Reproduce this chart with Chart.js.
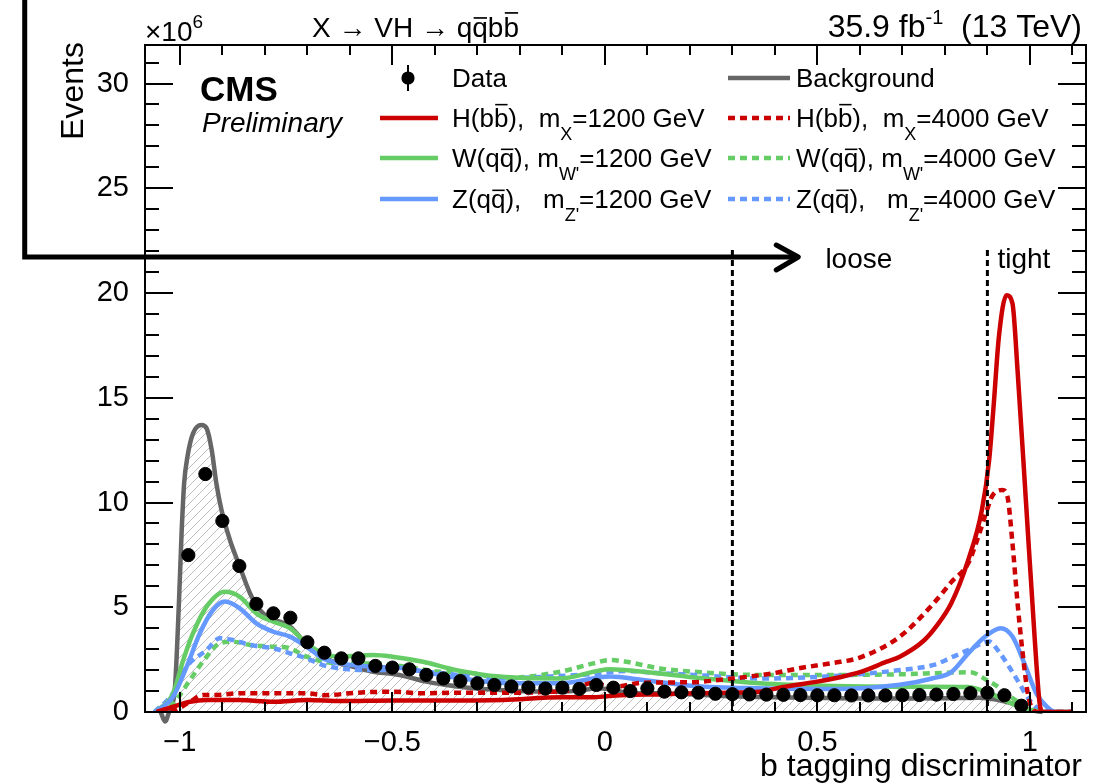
<!DOCTYPE html>
<html><head><meta charset="utf-8">
<script src="https://cdn.jsdelivr.net/npm/chart.js@4.4.0/dist/chart.umd.min.js"></script>
<style>html,body{margin:0;padding:0;background:#fff;overflow:hidden}#wrap{width:1105px;height:784px;position:relative}</style>
</head><body><div id="wrap"><canvas id="c"></canvas></div>
<script>
const FONT = '"Liberation Sans", Arial, Helvetica, sans-serif';

// ---- axis ranges & tick labels ----
const X_MIN = -1.082, X_MAX = 1.132, Y_MIN = 0, Y_MAX = 31.84;
const xTickValues = [-1, -0.5, 0, 0.5, 1];
const xTickLabels = ['\u22121', '\u22120.5', '0', '0.5', '1'];
const yTickValues = [0, 5, 10, 15, 20, 25, 30];
const yTickLabels = ['0', '5', '10', '15', '20', '25', '30'];

// ---- data (Events x10^6) ----
const dataX = [-0.98,-0.94,-0.90,-0.86,-0.82,-0.78,-0.74,-0.70,-0.66,-0.62,-0.58,-0.54,-0.50,-0.46,-0.42,-0.38,-0.34,-0.30,-0.26,-0.22,-0.18,-0.14,-0.10,-0.06,-0.02,0.02,0.06,0.10,0.14,0.18,0.22,0.26,0.30,0.34,0.38,0.42,0.46,0.50,0.54,0.58,0.62,0.66,0.70,0.74,0.78,0.82,0.86,0.90,0.94,0.98];
const dataY = [7.49,11.36,9.12,6.97,5.16,4.71,4.50,3.33,2.83,2.56,2.56,2.20,2.12,2.04,1.77,1.60,1.48,1.37,1.29,1.22,1.17,1.12,1.16,1.10,1.29,1.16,1.00,1.13,0.97,0.94,0.92,0.87,0.85,0.84,0.83,0.82,0.81,0.80,0.80,0.79,0.79,0.79,0.80,0.81,0.83,0.86,0.90,0.92,0.80,0.30];

const bkgX = [-1.045,-1.035,-1.024,-1.012,-1.002,-0.996,-0.99,-0.982,-0.969,-0.949,-0.937,-0.925,-0.914,-0.902,-0.882,-0.859,-0.835,-0.812,-0.788,-0.765,-0.745,-0.725,-0.702,-0.671,-0.639,-0.592,-0.545,-0.498,-0.467,-0.42,-0.372,-0.31,-0.247,-0.2,-0.15,-0.1,-0.05,-0.02,0.02,0.06,0.12,0.2,0.3,0.4,0.5,0.6,0.7,0.8,0.88,0.92,0.96,1.0,1.03];
const bkgY = [0,-0.45,0.1,1.05,5.3,8.5,10.9,12.2,13.3,13.7,13.54,12.5,10.9,9.64,8.2,6.94,5.67,4.87,4.47,4.31,4.15,3.76,3.2,2.72,2.4,2.16,1.92,1.81,1.69,1.45,1.29,1.13,1.05,1.0,0.98,0.97,1.05,1.13,1.05,0.9,0.9,0.85,0.75,0.7,0.67,0.65,0.65,0.66,0.68,0.6,0.4,0.1,0];

const h1200X = [-1.055,-1.016,-0.976,-0.937,-0.86,-0.78,-0.70,-0.62,-0.5,-0.4,-0.3,-0.24,-0.1,-0.03,0.01,0.05,0.13,0.21,0.286,0.365,0.42,0.5,0.55,0.6,0.663,0.694,0.75,0.78,0.815,0.855,0.887,0.904,0.915,0.927,0.945,0.959,0.971,0.991,1.011,1.023,1.03,1.1];
const h1200Y = [0,0.25,0.49,0.57,0.57,0.49,0.57,0.52,0.55,0.55,0.55,0.57,0.7,0.7,0.76,0.81,0.84,0.89,0.92,0.97,1.2,1.45,1.65,1.9,2.4,2.64,3.4,4.1,5.19,7.26,9.64,12.0,14.7,17.9,19.9,19.5,16.3,9.96,3.6,0.4,0,0];

const h4000X = [-1.05,-1.016,-0.976,-0.945,-0.92,-0.859,-0.78,-0.70,-0.66,-0.584,-0.498,-0.43,-0.35,-0.25,-0.15,-0.08,-0.03,0.02,0.09,0.2,0.3,0.396,0.46,0.537,0.6,0.694,0.774,0.815,0.855,0.879,0.899,0.911,0.935,0.947,0.959,0.971,0.983,0.995,1.007,1.02,1.1];
const h4000Y = [0,0.05,0.5,0.81,0.81,0.89,0.89,0.89,0.8,0.92,0.97,0.89,0.92,0.92,0.95,1.05,1.38,1.2,1.4,1.42,1.6,1.85,2.1,2.34,2.6,3.6,5.2,6.2,7.1,8.4,9.64,10.3,10.6,10.3,8.05,5.19,2.8,0.9,0.1,0,0];

const w1200X = [-1.058,-1.016,-0.992,-0.969,-0.937,-0.894,-0.859,-0.82,-0.78,-0.741,-0.702,-0.663,-0.624,-0.545,-0.5,-0.428,-0.349,-0.247,-0.106,0.012,0.09,0.21,0.365,0.54,0.694,0.77,0.855,0.906,0.953,0.99,1.05,1.1];
const w1200Y = [0,0.89,2.48,3.76,5.03,5.74,5.5,4.71,4.31,4.0,3.28,2.8,2.64,2.72,2.64,2.4,2.0,1.69,1.6,2.04,1.92,1.65,1.37,1.24,1.21,1.21,1.19,0.89,0.45,0.15,0,0];

const z1200X = [-1.058,-1.016,-0.984,-0.953,-0.922,-0.894,-0.859,-0.82,-0.78,-0.741,-0.702,-0.663,-0.624,-0.545,-0.467,-0.388,-0.31,-0.247,-0.106,0.012,0.09,0.21,0.365,0.54,0.694,0.77,0.815,0.855,0.895,0.931,0.959,0.987,1.015,1.04,1.06,1.1];
const z1200Y = [0,0.73,2.16,3.76,4.87,5.27,4.95,4.23,3.83,3.6,3.12,2.56,2.32,2.16,2.08,1.77,1.53,1.4,1.37,1.69,1.53,1.24,1.13,1.1,1.3,1.6,1.9,2.8,3.6,4.0,3.6,2.32,0.89,0.25,0,0];

const w4000X = [-1.05,-1.016,-0.976,-0.937,-0.906,-0.875,-0.835,-0.78,-0.741,-0.702,-0.624,-0.545,-0.467,-0.388,-0.31,-0.247,-0.106,-0.027,0.012,0.05,0.13,0.21,0.365,0.54,0.694,0.815,0.86,0.898,0.929,0.96,0.999,1.03,1.1];
const w4000Y = [0,0.4,1.53,2.64,3.28,3.36,3.2,3.12,3.04,2.64,2.32,2.32,2.16,1.92,1.85,1.6,1.92,2.32,2.48,2.4,2.08,1.92,1.77,1.77,1.8,1.88,1.9,1.53,1.15,0.65,0.18,0,0];

const z4000X = [-1.06,-1.016,-0.984,-0.937,-0.906,-0.875,-0.835,-0.78,-0.741,-0.702,-0.663,-0.624,-0.545,-0.467,-0.388,-0.31,-0.247,-0.106,-0.027,0.05,0.13,0.21,0.365,0.54,0.694,0.774,0.815,0.855,0.904,0.927,0.951,0.975,0.999,1.024,1.04,1.1];
const z4000Y = [0,0.89,2.16,2.96,3.52,3.44,3.2,3.04,2.8,2.56,2.24,2.08,2.0,2.0,1.85,1.69,1.6,1.72,1.81,1.96,1.85,1.77,1.6,1.72,2.0,2.25,2.6,2.96,3.36,2.88,2.16,1.37,0.57,0.1,0,0];

// ---- labels ----
const legendLabels = {
  data: 'Data', bkg: 'Background',
  h1200: 'H(b#bar{b}),  m_{X}=1200 GeV', h4000: 'H(b#bar{b}),  m_{X}=4000 GeV',
  w1200: "W(q#bar{q}), m_{W'}=1200 GeV", w4000: "W(q#bar{q}), m_{W'}=4000 GeV",
  z1200: "Z(q#bar{q}),   m_{Z'}=1200 GeV", z4000: "Z(q#bar{q}),   m_{Z'}=4000 GeV"
};
const cutValues = [0.3, 0.9];
const cutLabels = ['loose', 'tight'];

const RED = '#cc0000', GREEN = '#66cc66', BLUE = '#6699ff', GRAY = '#666666';

const zip = (xs, ys) => xs.map((x, i) => ({x, y: ys[i]}));

// ---- rich text helper ----
function parseRich(s) {
  const out = []; let i = 0, buf = '';
  const flush = () => { if (buf) { out.push({t: buf, k: 'n'}); buf = ''; } };
  while (i < s.length) {
    if (s.startsWith('_{', i) || s.startsWith('^{', i)) {
      flush(); const j = s.indexOf('}', i);
      out.push({t: s.slice(i + 2, j), k: s[i] === '_' ? 'sub' : 'sup'}); i = j + 1;
    } else if (s.startsWith('#bar{', i)) {
      flush(); const j = s.indexOf('}', i);
      out.push({t: s.slice(i + 5, j), k: 'bar'}); i = j + 1;
    } else { buf += s[i]; i++; }
  }
  flush(); return out;
}
function drawRich(ctx, s, x, y, size, opt = {}) {
  const segs = parseRich(s);
  const fs = k => (k === 'sub' || k === 'sup') ? Math.round(size * (opt.subScale || 0.68)) : size;
  const fontFor = k => `${opt.style || 'normal'} ${opt.weight || 'normal'} ${fs(k)}px ${FONT}`;
  let w = 0;
  segs.forEach(g => { ctx.font = fontFor(g.k); g.w = ctx.measureText(g.t).width; w += g.w; });
  let cx = opt.align === 'right' ? x - w : opt.align === 'center' ? x - w / 2 : x;
  ctx.textAlign = 'left'; ctx.textBaseline = 'alphabetic';
  segs.forEach(g => {
    ctx.font = fontFor(g.k);
    let dy = 0;
    if (g.k === 'sub') dy = size * (opt.subDy || 0.45);
    if (g.k === 'sup') dy = -size * (opt.supDy || 0.42);
    ctx.fillText(g.t, cx, y + dy);
    if (g.k === 'bar') {
      const h = /[bdfhklt]/.test(g.t) ? size * 0.86 : size * 0.68;
      ctx.save(); ctx.lineWidth = Math.max(1.3, size * 0.06); ctx.strokeStyle = ctx.fillStyle;
      ctx.beginPath(); ctx.moveTo(cx + size * 0.05, y - h); ctx.lineTo(cx + g.w - size * 0.03, y - h); ctx.stroke(); ctx.restore();
    }
    cx += g.w;
  });
  return w;
}

// ---- hatch pattern ----
const canvas = document.getElementById('c');
const mainCtx = canvas.getContext('2d');
function makeHatch() {
  const t = document.createElement('canvas'); t.width = 9; t.height = 9;
  const g = t.getContext('2d');
  g.strokeStyle = '#bdbdbd'; g.lineWidth = 1;
  g.beginPath();
  g.moveTo(-1, 10); g.lineTo(10, -1);
  g.moveTo(-1, 1); g.lineTo(1, -1);
  g.moveTo(8, 10); g.lineTo(10, 8);
  g.stroke();
  return mainCtx.createPattern(t, 'repeat');
}
const hatch = makeHatch();

const LW = 4.5;
const lineBase = {pointRadius: 0, borderWidth: LW, cubicInterpolationMode: 'monotone', fill: false};
const dashPat = [7, 5];

const datasets = [
  {label: legendLabels.data, data: zip(dataX, dataY), showLine: false, pointRadius: 6.6, pointHoverRadius: 6.6,
   pointBackgroundColor: '#000', pointBorderColor: '#000', borderColor: '#000', backgroundColor: '#000', order: 0},
  {label: legendLabels.h1200, data: zip(h1200X, h1200Y), borderColor: RED, ...lineBase, order: 1},
  {label: legendLabels.h4000, data: zip(h4000X, h4000Y), borderColor: RED, ...lineBase, borderDash: dashPat, order: 2},
  {label: legendLabels.z1200, data: zip(z1200X, z1200Y), borderColor: BLUE, ...lineBase, order: 3},
  {label: legendLabels.w1200, data: zip(w1200X, w1200Y), borderColor: GREEN, ...lineBase, order: 4},
  {label: legendLabels.z4000, data: zip(z4000X, z4000Y), borderColor: BLUE, ...lineBase, borderDash: dashPat, order: 5},
  {label: legendLabels.w4000, data: zip(w4000X, w4000Y), borderColor: GREEN, ...lineBase, borderDash: dashPat, order: 6},
  {label: legendLabels.bkg, data: zip(bkgX, bkgY), borderColor: GRAY, ...lineBase, fill: 'origin', backgroundColor: hatch,
   order: 7, clip: {left: 0, top: 0, right: 0, bottom: 14}}
];

function isMult(v, m) { const r = v / m; return Math.abs(r - Math.round(r)) < 1e-6; }
function lookupLabel(v, vals, labs) {
  for (let i = 0; i < vals.length; i++) if (Math.abs(vals[i] - v) < 1e-6) return labs[i];
  return '';
}

const framePlugin = {
  id: 'rootFrame',
  afterDatasetsDraw(chart) {
    const {ctx, chartArea: a, scales: {x, y}} = chart;
    ctx.save();
    ctx.strokeStyle = '#000';
    ctx.lineWidth = 2;
    ctx.strokeRect(a.left, a.top, a.right - a.left, a.bottom - a.top);
    ctx.beginPath();
    x.ticks.forEach(t => {
      const px = Math.round(x.getPixelForValue(t.value));
      const L = isMult(t.value, 0.5) ? 20 : 10;
      ctx.moveTo(px, a.bottom); ctx.lineTo(px, a.bottom - L);
      ctx.moveTo(px, a.top); ctx.lineTo(px, a.top + L);
    });
    y.ticks.forEach(t => {
      const py = Math.round(y.getPixelForValue(t.value));
      const L = isMult(t.value, 5) ? 28 : 14;
      ctx.moveTo(a.left, py); ctx.lineTo(a.left + L, py);
      ctx.moveTo(a.right, py); ctx.lineTo(a.right - L, py);
    });
    ctx.stroke();
    ctx.restore();
  },
  afterDraw(chart) {
    const {ctx, chartArea: a, scales: {x, y}} = chart;
    ctx.save();
    ctx.fillStyle = '#000';
    // cut lines
    ctx.strokeStyle = '#000'; ctx.lineWidth = 3; ctx.setLineDash([6, 4]);
    cutValues.forEach(c => {
      const px = x.getPixelForValue(c);
      ctx.beginPath(); ctx.moveTo(px, y.getPixelForValue(22.05)); ctx.lineTo(px, a.bottom); ctx.stroke();
    });
    ctx.setLineDash([]);
    ctx.font = `28px ${FONT}`; ctx.textBaseline = 'alphabetic'; ctx.textAlign = 'left';
    ctx.fillText(cutLabels[0], x.getPixelForValue(0.3) + 93, 268);
    ctx.fillText(cutLabels[1], x.getPixelForValue(0.9) + 10, 268);

    // header texts
    drawRich(ctx, '\u00d710^{6}', a.left, 41, 28, {subScale: 0.68, supDy: 0.45});
    drawRich(ctx, 'X \u2192 VH \u2192 q#bar{q}b#bar{b}', 312, 37, 28);
    drawRich(ctx, '35.9 fb^{-1}  (13 TeV)', 1082, 37, 32, {align: 'right', subScale: 0.62, supDy: 0.4});
    // axis titles
    ctx.save(); ctx.translate(83, 42); ctx.rotate(-Math.PI / 2);
    ctx.font = `32px ${FONT}`; ctx.textAlign = 'right'; ctx.textBaseline = 'alphabetic';
    ctx.fillText('Events', 0, 0); ctx.restore();
    ctx.font = `32px ${FONT}`; ctx.textAlign = 'right'; ctx.textBaseline = 'alphabetic';
    ctx.fillText('b tagging discriminator', 1082, 776);
    // CMS label
    ctx.textAlign = 'left';
    ctx.font = `bold 35px ${FONT}`; ctx.fillText('CMS', 200, 101);
    ctx.font = `italic 28px ${FONT}`; ctx.fillText('Preliminary', 202, 132);

    // legend
    const ds = chart.data.datasets;
    const find = lab => ds.find(d => d.label === lab);
    const rows = [78, 118, 158, 199];
    const col1 = {x0: 380, x1: 438, tx: 452}, col2 = {x0: 728, x1: 790, tx: 796};
    const entries = [
      [col1, rows[0], legendLabels.data, 'marker'],
      [col2, rows[0], legendLabels.bkg, 'line'],
      [col1, rows[1], legendLabels.h1200, 'line'], [col2, rows[1], legendLabels.h4000, 'line'],
      [col1, rows[2], legendLabels.w1200, 'line'], [col2, rows[2], legendLabels.w4000, 'line'],
      [col1, rows[3], legendLabels.z1200, 'line'], [col2, rows[3], legendLabels.z4000, 'line']
    ];
    entries.forEach(([col, ry, lab, kind]) => {
      const d = find(lab);
      if (kind === 'marker') {
        const mx = 408;
        ctx.strokeStyle = '#000'; ctx.lineWidth = 2;
        ctx.beginPath(); ctx.moveTo(mx, ry - 13); ctx.lineTo(mx, ry + 13); ctx.stroke();
        ctx.beginPath(); ctx.arc(mx, ry, 6.6, 0, Math.PI * 2); ctx.fill();
      } else {
        ctx.strokeStyle = d.borderColor; ctx.lineWidth = LW;
        ctx.setLineDash(d.borderDash || []);
        ctx.beginPath(); ctx.moveTo(col.x0, ry); ctx.lineTo(col.x1, ry); ctx.stroke();
        ctx.setLineDash([]);
      }
      ctx.fillStyle = '#000';
      drawRich(ctx, lab, col.tx, ry + 9, 26, {subScale: 0.7, subDy: 0.5});
    });

    // annotation arrow
    const ay = y.getPixelForValue(21.72), tip = x.getPixelForValue(0.455);
    const vx = x.getPixelForValue(-1.365);
    ctx.strokeStyle = '#000'; ctx.lineWidth = 5; ctx.lineJoin = 'miter'; ctx.lineCap = 'butt';
    ctx.beginPath(); ctx.moveTo(vx, -10); ctx.lineTo(vx, ay); ctx.lineTo(tip - 2, ay); ctx.stroke();
    ctx.lineCap = 'round'; ctx.lineJoin = 'round';
    ctx.beginPath(); ctx.moveTo(tip - 22, ay - 12); ctx.lineTo(tip, ay); ctx.lineTo(tip - 22, ay + 13); ctx.stroke();
    ctx.restore();
  }
};

new Chart(canvas, {
  type: 'line',
  data: {datasets},
  options: {
    responsive: true, maintainAspectRatio: false, animation: false,
    layout: {padding: {left: 0, right: 19, top: 45, bottom: 0}},
    plugins: {legend: {display: false}, tooltip: {enabled: false}},
    scales: {
      x: {
        type: 'linear', min: X_MIN, max: X_MAX,
        grid: {display: false}, border: {display: false},
        ticks: {stepSize: 0.1, includeBounds: false, autoSkip: false, maxRotation: 0, minRotation: 0,
          color: '#000', font: {family: FONT, size: 29}, padding: 6,
          callback: v => lookupLabel(v, xTickValues, xTickLabels)},
        afterFit: s => { s.height = 72; }
      },
      y: {
        type: 'linear', min: Y_MIN, max: Y_MAX,
        grid: {display: false}, border: {display: false},
        ticks: {stepSize: 1, includeBounds: false, autoSkip: false, color: '#000',
          font: {family: FONT, size: 29}, padding: 8,
          callback: v => lookupLabel(v, yTickValues, yTickLabels)},
        afterFit: s => { s.width = 145; }
      }
    }
  },
  plugins: [framePlugin]
});
</script></body></html>
